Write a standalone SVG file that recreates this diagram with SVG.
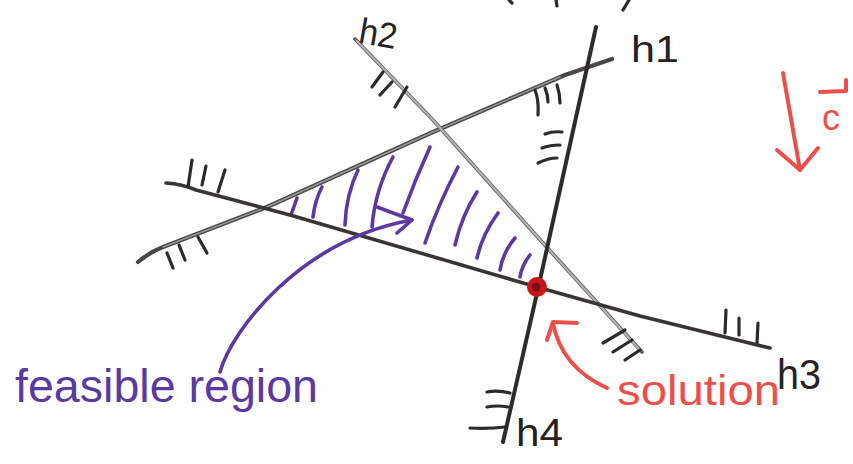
<svg xmlns="http://www.w3.org/2000/svg" width="853" height="464" viewBox="0 0 853 464">
<style>
  .ln{fill:none;stroke-linecap:round;stroke-linejoin:round}
  .hatch{fill:none;stroke:#2e2a2a;stroke-width:3.2;stroke-linecap:round}
  .purple{fill:none;stroke:#5a3aa0;stroke-width:3.6;stroke-linecap:round;stroke-linejoin:round}
  .red{fill:none;stroke:#ec4f4a;stroke-width:4;stroke-linecap:round;stroke-linejoin:round}
  .lbl{font-family:"Liberation Sans",Arial,sans-serif;fill:#262222}
</style>
<rect width="853" height="464" fill="#ffffff"/>

<!-- clipped top fragments -->
<g id="top-fragments" class="hatch">
  <path d="M509 0 L512 3"/>
  <path d="M556 0 L557 6"/>
  <path d="M629 0 L623 10"/>
</g>

<!-- feasible region hatching -->
<g id="region">
  <g class="purple">
    <path d="M297 198 L291 215"/>
    <path d="M322 187 Q315 200 313 217"/>
    <path d="M358 170 Q346 195 345 225"/>
    <path d="M393 157 Q375 190 372 227"/>
    <path d="M430 147 Q415 180 403 213"/>
    <path d="M458 167 Q438 205 425 243"/>
    <path d="M477 192 Q462 215 455 245"/>
    <path d="M498 213 Q482 235 477 258"/>
    <path d="M515 238 Q503 252 500 270"/>
    <path d="M530 255 Q522 265 520 277"/>
  </g>
</g>

<!-- lines (connectors) -->
<g id="connectors">
  <g id="h1">
    <path class="ln" d="M138 262 Q150 252 163 247 L267 207 L433 132 L565 75 L612 59" stroke="#4a4747" stroke-width="4.2"/>
    <path class="ln" d="M163 247 L267 207 L433 132 L560 77" stroke="#9a9a9a" stroke-width="1.4"/>
    <g class="hatch">
      <path d="M167 253 L173 268"/>
      <path d="M179 245 L185 260"/>
      <path d="M198 237 L207 253"/>
      <path d="M535 90 Q539 100 538 115"/>
      <path d="M545 88 Q548 95 548 102"/>
      <path d="M557 85 Q560 94 560 103"/>
    </g>
  </g>
  <g id="h2">
    <path class="ln" d="M355 39 L433 120 L543 243 L642 352" stroke="#666" stroke-width="3.8"/>
    <path class="ln" d="M357 41 L433 120 L543 243 L639 349" stroke="#b4b4b4" stroke-width="2"/>
    <g class="hatch">
      <path d="M383 72 L372 87"/>
      <path d="M392 82 L380 95"/>
      <path d="M407 87 L395 107"/>
      <path d="M603 343 L625 330"/>
      <path d="M613 352 L632 340"/>
      <path d="M625 360 L640 350"/>
    </g>
  </g>
  <g id="h3">
    <path class="ln" d="M166 183 Q182 184 196 190 L290 215 L537 287 L640 316 L770 348" stroke="#3a3535" stroke-width="3.6"/>
    <g class="hatch">
      <path d="M192 160 L188 187"/>
      <path d="M206 166 L202 185"/>
      <path d="M225 170 L218 192"/>
      <path d="M726 310 L725 333"/>
      <path d="M739 318 L739 335"/>
      <path d="M758 323 L757 343"/>
    </g>
  </g>
  <g id="h4">
    <path class="ln" d="M596 27 L540 280 L503 442" stroke="#2f2b2b" stroke-width="4"/>
    <g class="hatch">
      <path d="M545 134 Q553 131 562 132"/>
      <path d="M542 148 Q550 145 560 145"/>
      <path d="M538 163 Q548 158 557 158"/>
      <path d="M487 392 Q498 390 510 393"/>
      <path d="M487 407 Q497 405 508 407"/>
      <path d="M470 428 Q488 429 505 427"/>
    </g>
  </g>
  <g id="arrow-feasible">
    <path class="purple" d="M220 372 C232 330 300 240 412 220" stroke-width="4.4"/>
    <path class="purple" d="M377 207 L412 220 L397 233" stroke-width="4.4"/>
  </g>
  <g id="arrow-solution">
    <path class="red" d="M607 388 C585 378 560 360 553 323"/>
    <path class="red" d="M577 323 L553 322 L547 340"/>
  </g>
</g>

<!-- solution point -->
<g id="solution-point">
  <circle cx="537" cy="287" r="10" fill="#c8161c"/>
  <circle cx="536" cy="287" r="4.5" fill="#7a0e10"/>
</g>

<!-- labels -->
<g id="label-h1"><text class="lbl" x="631" y="62" font-size="36" textLength="48" lengthAdjust="spacingAndGlyphs">h1</text></g>
<g id="label-h2"><text class="lbl" x="359" y="46" font-size="36" textLength="38" lengthAdjust="spacingAndGlyphs" transform="rotate(10 378 35)">h2</text></g>
<g id="label-h3"><text class="lbl" x="777" y="389" font-size="42" textLength="44" lengthAdjust="spacingAndGlyphs">h3</text></g>
<g id="label-h4"><text class="lbl" x="516" y="446" font-size="38" textLength="47" lengthAdjust="spacingAndGlyphs">h4</text></g>

<g id="label-feasible">
  <text x="15" y="402" font-family="'Liberation Sans',Arial,sans-serif" font-size="46" fill="#5a3aa0" textLength="303" lengthAdjust="spacingAndGlyphs">feasible region</text>
</g>
<g id="label-solution">
  <text x="617" y="405" font-family="'Liberation Sans',Arial,sans-serif" font-size="42" fill="#ec4f4a" textLength="163" lengthAdjust="spacingAndGlyphs">solution</text>
</g>

<!-- cost vector c -->
<g id="vector-c">
  <path class="red" d="M783 73 L800 170"/>
  <path class="red" d="M777 150 L800 170 L818 148"/>
  <path class="red" d="M820 92 L846 91 L846 80" stroke-width="3.6"/>
  <text x="822" y="130" font-family="'Liberation Sans',Arial,sans-serif" font-size="36" fill="#ec4f4a">c</text>
</g>
</svg>
